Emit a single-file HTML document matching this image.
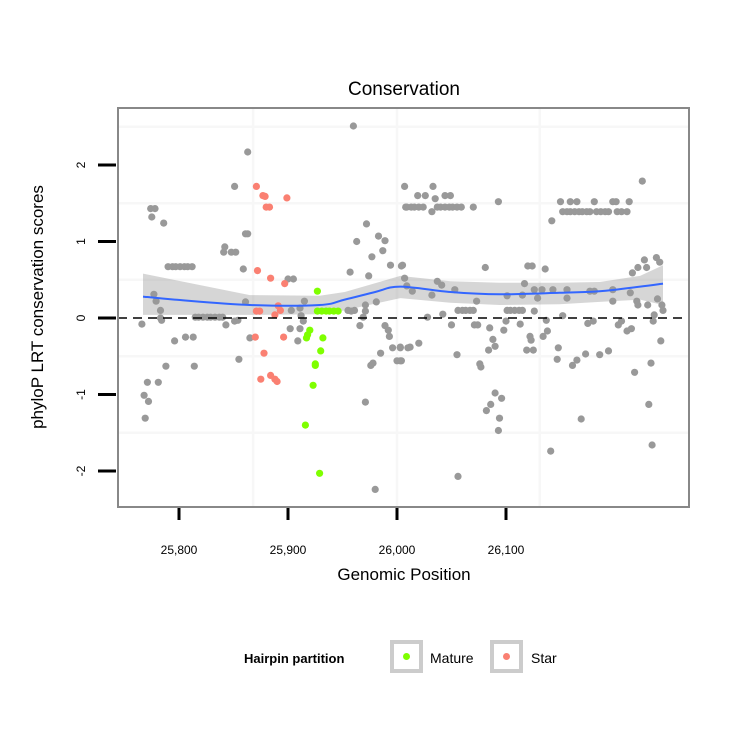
<!DOCTYPE html>
<html><head><meta charset="utf-8">
<style>
html,body{margin:0;padding:0;background:#fff;}
svg{display:block;font-family:"Liberation Sans",Arial,sans-serif;}
</style></head>
<body>
<svg id="chart" width="750" height="750" viewBox="0 0 750 750">
  <rect x="0" y="0" width="750" height="750" fill="#fff"/>
  <text x="404" y="95" text-anchor="middle" font-size="19" fill="#000">Conservation</text>
  <g id="grid"></g>
  <g id="band"></g>
  <g id="pts"></g>
  <g id="smooth"></g>
  <g id="axes"></g>
  <rect x="118" y="108" width="571" height="399" fill="none" stroke="#888" stroke-width="2"/>
  <text x="404" y="580" text-anchor="middle" font-size="17">Genomic Position</text>
  <text transform="translate(43,307) rotate(-90)" text-anchor="middle" font-size="17">phyloP LRT conservation scores</text>
  <g>
    <text x="244" y="663" font-size="13" font-weight="bold">Hairpin partition</text>
    <g>
      <rect x="392" y="642" width="29" height="29" fill="#fff" stroke="#cccccc" stroke-width="4"/>
      <circle cx="406.5" cy="656.5" r="3.5" fill="#7fff00"/>
      <text x="430" y="663" font-size="14">Mature</text>
    </g>
    <g>
      <rect x="492" y="642" width="29" height="29" fill="#fff" stroke="#cccccc" stroke-width="4"/>
      <circle cx="506.5" cy="656.5" r="3.5" fill="#fa8072"/>
      <text x="531" y="663" font-size="14">Star</text>
    </g>
  </g>
</svg>
<script>
const xTicks = [25800, 25900, 26000, 26100];
const xTickLabels = ["25,800", "25,900", "26,000", "26,100"];
const yTicks = [2, 1, 0, -1, -2];
const yTickLabels = ["2", "1", "0", "-1", "-2"];
const xGrid = [25868, 26000, 26131];
const yGrid = [2.5, 1.5, 0.5, -0.5, -1.5];

const otherX = [25960,25863,25851,25774,25778,25775,25786,25861,25863,25842,25841,25848,25852,
25790,25794,25797,25801,25805,25808,25812,25859,25900,25905,25777,25779,25861,25783,25783,25784,25766,
25815,25818,25822,25826,25829,25833,25837,25840,25843,25851,25854,25865,25796,25806,25813,25855,25788,25814,
25771,25781,25768,25772,25769,25902,25911,25909,25903,25911,25915,25912,25914,
25972,25963,25983,25989,25987,25977,25957,25974,25994,26004,25981,25955,25958,25961,25971,25971,25969,25966,
25989,25992,25993,25996,26003,25976,25978,25985,26000,26003,25971,25980,26007,26008,26007,26010,
26033,26019,26026,26035,26044,26049,26009,26013,26016,26020,26024,26032,26037,26040,26044,26048,26051,26055,26059,
26070,26093,26005,26081,26120,26124,26136,26037,26041,26009,26014,26032,26053,26073,26056,26060,26063,26067,26070,
26101,26104,26108,26112,26115,26126,26101,26115,26117,26126,26133,26129,26143,26156,26156,26152,
26028,26042,26050,26071,26074,26085,26100,26098,26113,26137,26138,26134,26122,26123,26088,26090,26084,26119,26125,
26003,26012,26020,26004,26055,26076,26077,26090,26096,26086,26082,26094,26093,26056,26148,26147,26161,26165,26173,26186,26194,
26142,26150,26159,26165,26181,26198,26201,26213,26152,26156,26159,26163,26167,26170,26174,26177,26183,26187,26191,26194,26202,26206,26211,
26225,26216,26221,26227,26229,26238,26241,26177,26181,26198,26214,26198,26220,26221,26230,26239,26243,26244,
26175,26180,26203,26206,26211,26215,26236,26235,26242,26218,26233,26231,26169,26141,26234];
const otherY = [2.51,2.17,1.72,1.43,1.43,1.32,1.24,1.10,1.10,0.93,0.86,0.86,0.86,
0.67,0.67,0.67,0.67,0.67,0.67,0.67,0.64,0.51,0.51,0.31,0.22,0.21,0.10,0.00,-0.03,-0.08,
0.01,0.01,0.01,0.01,0.01,0.01,0.01,0.01,-0.09,-0.04,-0.03,-0.26,-0.30,-0.25,-0.25,-0.54,-0.63,-0.63,
-0.84,-0.84,-1.01,-1.09,-1.31,-0.14,-0.14,-0.30,0.10,0.13,0.22,0.03,-0.04,
1.23,1.00,1.07,1.01,0.88,0.80,0.60,0.55,0.69,0.68,0.21,0.10,0.09,0.10,0.17,0.09,0.01,-0.10,
-0.10,-0.16,-0.24,-0.39,-0.39,-0.62,-0.59,-0.46,-0.56,-0.56,-1.10,-2.24,1.72,1.45,0.52,-0.39,
1.72,1.60,1.60,1.56,1.60,1.60,1.45,1.45,1.45,1.45,1.45,1.39,1.45,1.45,1.45,1.45,1.45,1.45,1.45,
1.45,1.52,0.69,0.66,0.68,0.68,0.64,0.48,0.43,0.42,0.35,0.30,0.37,0.22,0.10,0.10,0.10,0.10,0.10,
0.10,0.10,0.10,0.10,0.10,0.09,0.29,0.30,0.45,0.37,0.37,0.26,0.37,0.37,0.26,0.03,
0.01,0.05,-0.09,-0.09,-0.09,-0.13,-0.04,-0.16,-0.08,-0.03,-0.17,-0.24,-0.24,-0.29,-0.28,-0.37,-0.42,-0.42,-0.42,
-0.38,-0.38,-0.33,-0.56,-0.48,-0.60,-0.64,-0.98,-1.05,-1.13,-1.21,-1.31,-1.47,-2.07,-0.39,-0.54,-0.62,-0.55,-0.47,-0.48,-0.43,
1.27,1.52,1.52,1.52,1.52,1.52,1.52,1.52,1.39,1.39,1.39,1.39,1.39,1.39,1.39,1.39,1.39,1.39,1.39,1.39,1.39,1.39,1.39,
1.79,0.59,0.66,0.76,0.66,0.79,0.73,0.35,0.35,0.37,0.33,0.22,0.22,0.17,0.17,0.25,0.17,0.10,
-0.07,-0.04,-0.09,-0.04,-0.17,-0.14,0.04,-0.04,-0.30,-0.71,-0.59,-1.13,-1.32,-1.74,-1.66];

const starX = [25871,25877,25879,25880,25883,25899,25872,25884,25897,25871,25874,25888,25893,25891,25870,25896,25878,25875,25884,25888,25890];
const starY = [1.72,1.60,1.59,1.45,1.45,1.57,0.62,0.52,0.45,0.09,0.09,0.04,0.10,0.16,-0.25,-0.25,-0.46,-0.80,-0.75,-0.80,-0.83];

const matureX = [25927,25927,25931,25935,25938,25942,25946,25920,25918,25917,25932,25930,25925,25925,25923,25916,25929];
const matureY = [0.35,0.09,0.09,0.09,0.09,0.09,0.09,-0.16,-0.22,-0.26,-0.26,-0.43,-0.60,-0.62,-0.88,-1.40,-2.03];

const smoothX = [25767,25796,25865,25929,25952,25980,26003,26049,26094,26149,26186,26223,26244];
const smoothY = [0.28,0.24,0.17,0.17,0.24,0.34,0.41,0.34,0.31,0.33,0.35,0.41,0.45];
const bandX = [25767,25865,25929,25952,26003,26049,26094,26149,26186,26223,26244];
const bandHi = [0.58,0.30,0.29,0.34,0.55,0.48,0.46,0.46,0.47,0.55,0.69];
const bandLo = [0.04,0.04,0.05,0.10,0.26,0.20,0.17,0.18,0.21,0.24,0.17];

const NS = "http://www.w3.org/2000/svg";
function xs(v){ return 179 + (v - 25800) * 1.09; }
function ys(v){ return 318 - v * 76.5; }
function mk(tag, attrs, parent){
  const e = document.createElementNS(NS, tag);
  for (const k in attrs) e.setAttribute(k, attrs[k]);
  parent.appendChild(e);
  return e;
}
const grid = document.getElementById('grid');
xGrid.forEach(function(v){
  const l = mk('line', {x1: xs(v), x2: xs(v), y1: 108, y2: 507, stroke: '#f7f7f7', 'stroke-width': 2.5}, grid);
  
  
});
yGrid.forEach(function(v){
  const l = mk('line', {x1: 118, x2: 689, y1: ys(v), y2: ys(v), stroke: '#f7f7f7', 'stroke-width': 2.5}, grid);
  
  
});

let d = '';
bandX.forEach(function(v, i){ d += (i ? 'L' : 'M') + xs(v).toFixed(1) + ',' + ys(bandHi[i]).toFixed(1); });
for (let i = bandX.length - 1; i >= 0; i--) d += 'L' + xs(bandX[i]).toFixed(1) + ',' + ys(bandLo[i]).toFixed(1);
d += 'Z';
const bp = mk('path', {d: d, fill: '#999', 'fill-opacity': 0.4}, document.getElementById('band'));



const pts = document.getElementById('pts');
function drawPts(X, Y, color, name){
  X.forEach(function(v, i){
    const c = mk('circle', {cx: xs(v).toFixed(1), cy: ys(Y[i]).toFixed(1), r: 3.6, fill: color}, pts);
    
    
  });
}
drawPts(otherX, otherY, '#999999', 'point-other');
drawPts(starX, starY, '#fa8072', 'point-star');
drawPts(matureX, matureY, '#7fff00', 'point-mature');

const ax = document.getElementById('axes');
const zl = mk('line', {x1: 118, x2: 689, y1: ys(0), y2: ys(0), stroke: '#000', 'stroke-width': 1.6, 'stroke-dasharray': '9,6'}, document.getElementById('smooth'));



function smoothPath(X, Y){
  let p = 'M' + xs(X[0]) + ',' + ys(Y[0]);
  for (let i = 0; i < X.length - 1; i++){
    const x0 = xs(X[Math.max(i-1,0)]), y0 = ys(Y[Math.max(i-1,0)]);
    const x1 = xs(X[i]), y1 = ys(Y[i]);
    const x2 = xs(X[i+1]), y2 = ys(Y[i+1]);
    const x3 = xs(X[Math.min(i+2,X.length-1)]), y3 = ys(Y[Math.min(i+2,X.length-1)]);
    p += 'C' + (x1 + (x2-x0)/6).toFixed(1) + ',' + (y1 + (y2-y0)/6).toFixed(1) + ' ' +
         (x2 - (x3-x1)/6).toFixed(1) + ',' + (y2 - (y3-y1)/6).toFixed(1) + ' ' + x2.toFixed(1) + ',' + y2.toFixed(1);
  }
  return p;
}
const sl = mk('path', {d: smoothPath(smoothX, smoothY), fill: 'none', stroke: '#3366ff', 'stroke-width': 2}, document.getElementById('smooth'));



xTicks.forEach(function(v, i){
  const t = mk('line', {x1: xs(v), x2: xs(v), y1: 508, y2: 520, stroke: '#000', 'stroke-width': 3}, ax);
  
  
  const l = mk('text', {x: xs(v), y: 554, 'text-anchor': 'middle', 'font-size': 12}, ax);
  l.textContent = xTickLabels[i];
  
  
});
yTicks.forEach(function(v, i){
  const t = mk('line', {x1: 98, x2: 116, y1: ys(v), y2: ys(v), stroke: '#000', 'stroke-width': 3}, ax);
  
  
  const l = mk('text', {transform: 'translate(85,' + ys(v) + ') rotate(-90)', 'text-anchor': 'middle', 'font-size': 12}, ax);
  l.textContent = yTickLabels[i];
  
  
});
</script>
</body></html>
